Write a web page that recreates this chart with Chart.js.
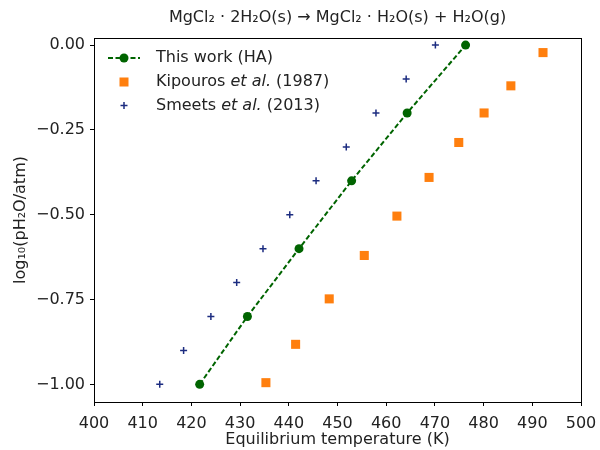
<!DOCTYPE html>
<html>
<head>
<meta charset="utf-8">
<script src="https://cdn.jsdelivr.net/npm/chart.js@4"></script>
<style>
  html, body { margin: 0; padding: 0; background: #fff; }
  #wrap { width: 600px; height: 450px; }
</style>
</head>
<body>
<div id="wrap"><canvas id="chart" width="600" height="450"></canvas></div>
<script>
// values
const thisWorkT = [421.7, 431.5, 442.1, 452.9, 464.3, 476.3];
const thisWorkLogP = [-1.0, -0.8, -0.6, -0.4, -0.2, 0.0];

const kipourosT = [435.3, 441.4, 448.3, 455.5, 462.2, 468.8, 474.9, 480.1, 485.6, 492.2];
const kipourosLogP = [-0.995, -0.882, -0.748, -0.62, -0.504, -0.39, -0.287, -0.2, -0.12, -0.022];

const smeetsT = [413.5, 418.4, 424.0, 429.3, 434.7, 440.2, 445.6, 451.8, 457.9, 464.1, 470.1];
const smeetsLogP = [-1.0, -0.9, -0.8, -0.7, -0.6, -0.5, -0.4, -0.3, -0.2, -0.1, 0.0];

const xTicks = [400, 410, 420, 430, 440, 450, 460, 470, 480, 490, 500];
const yTicks = [-1.0, -0.75, -0.5, -0.25, 0.0];

const titleText = 'MgCl₂ · 2H₂O(s) → MgCl₂ · H₂O(s) + H₂O(g)';

const FONT = 'DejaVu Sans';
const FS = 16;
const TXT = '#222';
const GREEN = '#006400';
const ORANGE = '#ff7f0e';
const NAVY = '#1c2c80';

function pts(xs, ys) {
    return xs.map((x, i) => ({ x: x, y: ys[i] }));
}

/* ===== title, frame + legend drawn over the plot ===== */
const framePlugin = {
    id: 'frame',
    afterDraw(chart) {
        const c = chart.ctx;
        const a = chart.chartArea;
        c.save();
        c.strokeStyle = '#000';
        c.lineWidth = 1;
        c.strokeRect(Math.round(a.left) + 0.5, Math.round(a.top) + 0.5,
            Math.round(a.right - a.left), Math.round(a.bottom - a.top));

        // title centred on the plot area
        c.font = FS + 'px "' + FONT + '"';
        c.fillStyle = TXT;
        c.textAlign = 'center';
        c.textBaseline = 'middle';
        c.fillText(titleText, (a.left + a.right) / 2, 18);
        c.textAlign = 'left';

        // legend
        const x0 = a.left + 14;
        const xm = a.left + 30;
        const xt = a.left + 62;
        let y = a.top + 20;

        // This work
        c.strokeStyle = GREEN;
        c.lineWidth = 2;
        c.setLineDash([5, 2.5]);
        c.beginPath();
        c.moveTo(x0, y);
        c.lineTo(x0 + 32, y);
        c.stroke();
        c.setLineDash([]);
        c.fillStyle = GREEN;
        c.beginPath();
        c.arc(xm, y, 4.5, 0, Math.PI * 2);
        c.fill();
        c.fillStyle = TXT;
        c.fillText('This work (HA)', xt, y);

        // Kipouros
        y += 24;
        c.fillStyle = ORANGE;
        c.fillRect(xm - 4.5, y - 4.5, 9, 9);
        drawCite(c, xt, y, 'Kipouros ', ' (1987)');

        // Smeets
        y += 23.5;
        c.strokeStyle = NAVY;
        c.lineWidth = 1.5;
        c.beginPath();
        c.moveTo(xm - 3.5, y); c.lineTo(xm + 3.5, y);
        c.moveTo(xm, y - 3.5); c.lineTo(xm, y + 3.5);
        c.stroke();
        drawCite(c, xt, y, 'Smeets ', ' (2013)');
        c.restore();
    }
};

function drawCite(c, x, y, name, year) {
    c.fillStyle = TXT;
    c.font = FS + 'px "' + FONT + '"';
    c.fillText(name, x, y);
    x += c.measureText(name).width;
    c.font = 'italic ' + FS + 'px "' + FONT + '"';
    c.fillText('et al.', x, y);
    x += c.measureText('et al.').width;
    c.font = FS + 'px "' + FONT + '"';
    c.fillText(year, x, y);
}

const ctx = document.getElementById('chart').getContext('2d');

const chart = new Chart(ctx, {
    type: 'scatter',
    data: {
        datasets: [
            {
                label: 'This work (HA)',
                data: pts(thisWorkT, thisWorkLogP),
                showLine: true,
                borderColor: GREEN,
                borderWidth: 2,
                borderDash: [5, 2.5],
                backgroundColor: GREEN,
                pointStyle: 'circle',
                pointRadius: 4.5,
                pointBorderWidth: 0,
                pointBackgroundColor: GREEN
            },
            {
                label: 'Kipouros et al. (1987)',
                data: pts(kipourosT, kipourosLogP),
                backgroundColor: ORANGE,
                borderColor: ORANGE,
                pointStyle: 'rect',
                pointRadius: 6.4,
                pointBorderWidth: 0
            },
            {
                label: 'Smeets et al. (2013)',
                data: pts(smeetsT, smeetsLogP),
                backgroundColor: NAVY,
                borderColor: NAVY,
                pointStyle: 'cross',
                pointRadius: 3.5,
                pointBorderWidth: 1.5
            }
        ]
    },
    options: {
        responsive: false,
        animation: false,
        layout: { padding: { left: 0, right: 19, top: 38, bottom: 0 } },
        plugins: {
            legend: { display: false },
            tooltip: { enabled: false },
            title: { display: false }
        },
        scales: {
            x: {
                type: 'linear',
                min: 400,
                max: 500,
                afterBuildTicks: s => { s.ticks = xTicks.map(v => ({ value: v })); },
                afterFit: s => { s.height = 48; s.paddingLeft = 0; s.paddingRight = 0; },
                ticks: {
                    color: TXT,
                    font: { family: FONT, size: FS },
                    padding: 8,
                    maxRotation: 0,
                    autoSkip: false
                },
                grid: { drawOnChartArea: false, drawTicks: true, tickLength: 4, color: '#000' },
                border: { display: true, color: '#000' },
                title: {
                    display: true,
                    text: 'Equilibrium temperature (K)',
                    color: TXT,
                    font: { family: FONT, size: FS },
                    padding: { top: 0, bottom: 1 }
                }
            },
            y: {
                type: 'linear',
                min: -1.052,
                max: 0.021,
                afterBuildTicks: s => { s.ticks = yTicks.map(v => ({ value: v })); },
                afterFit: s => { s.width = 94; },
                ticks: {
                    color: TXT,
                    font: { family: FONT, size: FS },
                    padding: 5,
                    callback: v => v.toFixed(2).replace('-', '\u2212')
                },
                grid: { drawOnChartArea: false, drawTicks: true, tickLength: 4, color: '#000' },
                border: { display: true, color: '#000' },
                title: {
                    display: true,
                    text: 'log₁₀(pH₂O/atm)',
                    color: TXT,
                    font: { family: FONT, size: FS },
                    padding: { top: 11, bottom: 0 }
                }
            }
        }
    },
    plugins: [framePlugin]
});
</script>
</body>
</html>
